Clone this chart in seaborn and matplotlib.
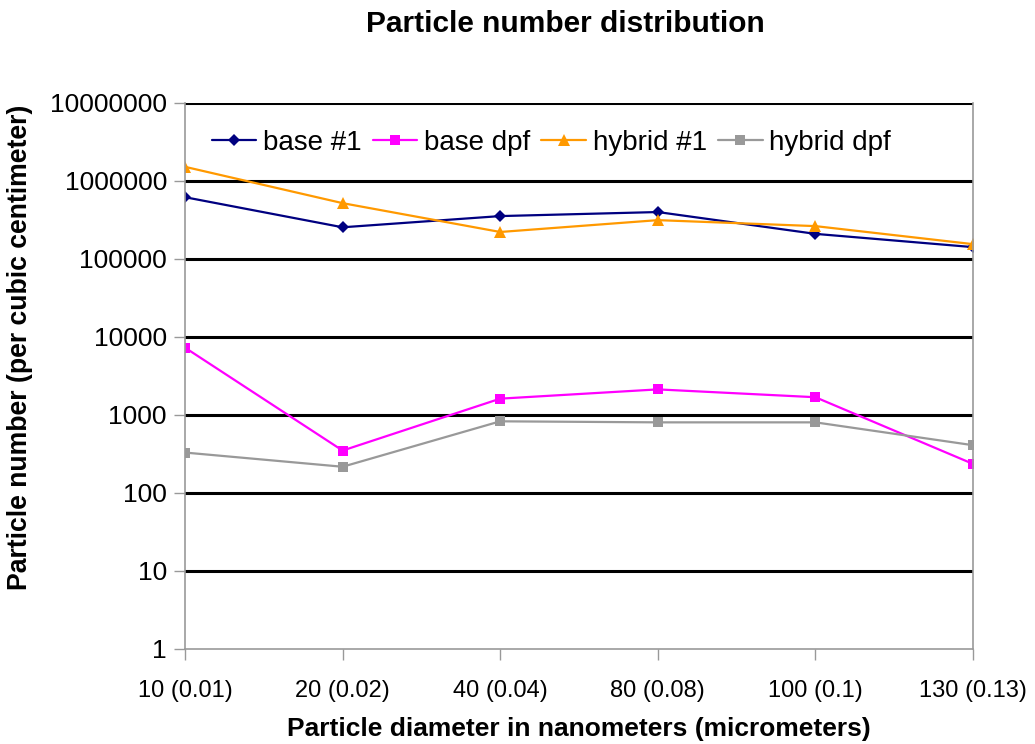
import numpy as np
import pandas as pd
import matplotlib
matplotlib.use("Agg")
import matplotlib.pyplot as plt
import seaborn as sns

# ── data ──────────────────────────────────────────────────
diameters = ["10 (0.01)", "20 (0.02)", "40 (0.04)", "80 (0.08)", "100 (0.1)", "130 (0.13)"]
base_1 = [620000, 255000, 355000, 400000, 210000, 142000]
base_dpf = [7300, 350, 1620, 2130, 1690, 236]
hybrid_1 = [1520000, 520000, 222000, 315000, 264000, 155000]
hybrid_dpf = [330, 217, 830, 805, 805, 410]

series_names = ["base #1", "base dpf", "hybrid #1", "hybrid dpf"]
series_values = [base_1, base_dpf, hybrid_1, hybrid_dpf]
colors = {"base #1": "#000080", "base dpf": "#FF00FF",
          "hybrid #1": "#FF9900", "hybrid dpf": "#999999"}
markers = {"base #1": "D", "base dpf": "s", "hybrid #1": "^", "hybrid dpf": "s"}
marker_sizes = {"base #1": 6, "base dpf": 7, "hybrid #1": 8, "hybrid dpf": 7}

rows = []
for name, vals in zip(series_names, series_values):
    for i, v in enumerate(vals):
        rows.append({"pos": i, "series": name, "count": v})
df = pd.DataFrame(rows)

sns.set_style("white")
plt.rcParams["font.family"] = ["Liberation Sans", "DejaVu Sans"]
plt.rcParams["text.color"] = "black"
plt.rcParams["xtick.color"] = "black"
plt.rcParams["ytick.color"] = "black"
plt.rcParams["axes.labelcolor"] = "black"

fig = plt.figure(figsize=(10.35, 7.44), dpi=100)
ax = fig.add_axes([185 / 1035, 1 - 649 / 744, (973 - 185) / 1035, (649 - 103) / 744])

sns.lineplot(data=df, x="pos", y="count", hue="series", style="series",
             palette=colors, markers=markers, dashes=False, linewidth=1.6,
             markeredgewidth=0, ax=ax, legend=False)

# per-series marker size
for line, name in zip(ax.get_lines(), series_names):
    line.set_markersize(marker_sizes[name])

ax.set_yscale("log")
ax.set_ylim(1, 1e7)
ax.set_xlim(0, len(diameters) - 1)
decades = [10 ** k for k in range(8)]
ax.set_yticks(decades)
ax.set_yticklabels([str(d) for d in decades])
ax.yaxis.set_minor_locator(matplotlib.ticker.NullLocator())
ax.set_xticks(range(len(diameters)))
ax.set_xticklabels(diameters)

for d in decades[1:]:
    ax.axhline(d, color="black", linewidth=2.2, zorder=1)

for side in ["left", "bottom", "right"]:
    ax.spines[side].set_color("#999999")
    ax.spines[side].set_linewidth(1.2)
ax.spines["top"].set_visible(False)

ax.tick_params(axis="both", which="major", direction="out", length=8, width=1,
               color="#999999", left=True, bottom=True)
ax.tick_params(axis="y", labelsize=19, pad=5)
ax.tick_params(axis="x", labelsize=17, pad=14)

ax.set_xlabel("Particle diameter in nanometers (micrometers)", fontsize=19,
              fontweight="bold", labelpad=11)
ax.set_ylabel("Particle number (per cubic centimeter)", fontsize=19.2,
              fontweight="bold")
ax.yaxis.set_label_coords(-0.193, 0.553)
fig.text(0.546, 0.968, "Particle number distribution", ha="center", va="center",
         fontsize=21.5, fontweight="bold")

handles = [matplotlib.lines.Line2D([], [], color=colors[n], marker=markers[n],
                                   markersize=marker_sizes[n], markeredgewidth=0,
                                   linewidth=1.6) for n in series_names]
ax.legend(handles, series_names, loc="upper center", bbox_to_anchor=(0.465, 0.997),
          ncol=4, frameon=False, fontsize=20, handlelength=1.6, handletextpad=0.25,
          columnspacing=0.4)

fig.savefig("out.png", dpi=100)
